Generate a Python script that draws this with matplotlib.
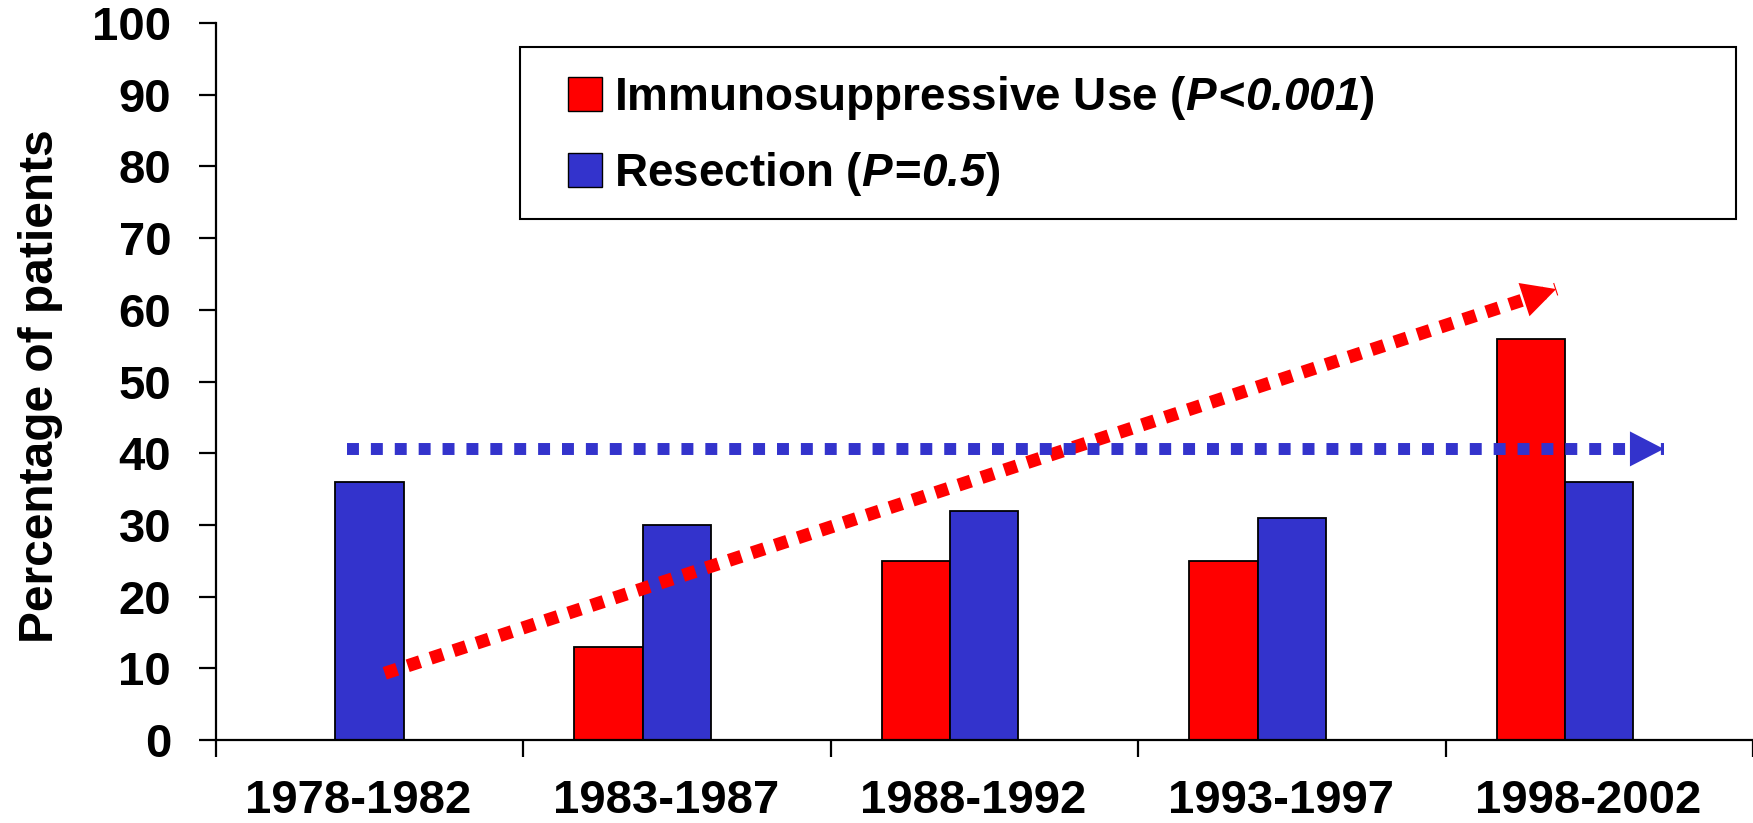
import matplotlib
matplotlib.use("Agg")
import matplotlib.pyplot as plt
from matplotlib.patches import Patch, Rectangle
from matplotlib.transforms import ScaledTranslation

plt.rcParams['font.family'] = ['Liberation Sans', 'DejaVu Sans']
plt.rcParams['font.weight'] = 'bold'
plt.rcParams['mathtext.fontset'] = 'custom'
plt.rcParams['mathtext.it'] = 'Liberation Sans:italic:bold'
plt.rcParams['mathtext.rm'] = 'Liberation Sans:italic:bold'

# Data
periods = ['1978-1982', '1983-1987', '1988-1992', '1993-1997', '1998-2002']
immuno = [0, 13, 25, 25, 56]
resection = [36, 30, 32, 31, 36]

# trend arrows (category index, percent)
immuno_trend_x = [0.05, 3.86]
immuno_trend_y = [9.3, 62.9]
resection_trend_x = [-0.072, 4.21]
resection_trend_y = [40.6, 40.6]

RED = '#FF0000'
BLUE = '#3333CC'

fig = plt.figure(figsize=(17.53, 8.23), dpi=100)
ax = fig.add_axes([0.123, 0.1009, 0.877, 0.871])

# Excel style cluster: 3 slots, gap width 150%
w = 1 / 4.5
x = list(range(len(periods)))
ax.bar([i - w for i in x], immuno, width=w, color=RED, edgecolor='black', linewidth=1.3)
ax.bar(x, resection, width=w, color=BLUE, edgecolor='black', linewidth=1.3)

# Trend lines
ax.plot(immuno_trend_x, immuno_trend_y, color=RED, lw=9.4,
        linestyle=(0, (1.0, 0.85)), dash_capstyle='butt', zorder=4)
ax.plot(resection_trend_x, resection_trend_y, color=BLUE, lw=8.6,
        linestyle=(0, (1.0, 1.0)), dash_capstyle='butt', zorder=4)

head = dict(arrowstyle='-|>,head_length=1.22,head_width=0.63', mutation_scale=20,
            lw=0, shrinkA=0, shrinkB=0)
ax.annotate('', xy=(immuno_trend_x[1], immuno_trend_y[1]),
            xytext=(immuno_trend_x[0], immuno_trend_y[0]),
            arrowprops=dict(color=RED, **head), zorder=5)
ax.annotate('', xy=(resection_trend_x[1], resection_trend_y[1]),
            xytext=(resection_trend_x[0], resection_trend_y[0]),
            arrowprops=dict(color=BLUE, **head), zorder=5)

# Axes
ax.set_xlim(-0.5, 4.5)
ax.set_ylim(0, 100)
ax.set_yticks(range(0, 101, 10))
ax.set_xticks(x)
ax.set_xticklabels(periods)
ax.set_xticks([i - 0.5 for i in range(len(periods) + 1)], minor=True)
for s in ['top', 'right']:
    ax.spines[s].set_visible(False)
for s in ['left', 'bottom']:
    ax.spines[s].set_linewidth(1.6)
ax.tick_params(axis='y', length=12, width=1.6, pad=20, labelsize=34)
ax.tick_params(axis='x', which='major', length=0, pad=28, labelsize=34)
ax.tick_params(axis='x', which='minor', length=12, width=1.6)
shift = ScaledTranslation(-0.11, 0, fig.dpi_scale_trans)
for lab in ax.get_xticklabels():
    lab.set_fontweight('bold')
    lab.set_transform(lab.get_transform() + shift)
for lab in ax.get_yticklabels():
    lab.set_fontweight('bold')

fig.text(41 / 1753, 1 - 386 / 823, 'Percentage of patients', rotation=90,
         ha='center', va='center', fontsize=34.5, fontweight='bold')

# Legend
fig.patches.append(Rectangle((520 / 1753, 1 - 219 / 823), (1736 - 520) / 1753, 172 / 823,
                             transform=fig.transFigure, fill=False,
                             edgecolor='black', linewidth=1.5))
handles = [Patch(facecolor=RED, edgecolor='black'), Patch(facecolor=BLUE, edgecolor='black')]
labels = [r'Immunosuppressive Use ($P\!<\!0.001$)', r'Resection ($P\!=\!0.5$)']
fig.legend(handles, labels, loc='center left', bbox_to_anchor=(568 / 1753, 1 - 136 / 823),
           frameon=False, fontsize=33, handlelength=0.75, handleheight=0.75,
           handletextpad=0.25, labelspacing=0.62, borderpad=0, borderaxespad=0)

fig.savefig('out.png', dpi=100)
